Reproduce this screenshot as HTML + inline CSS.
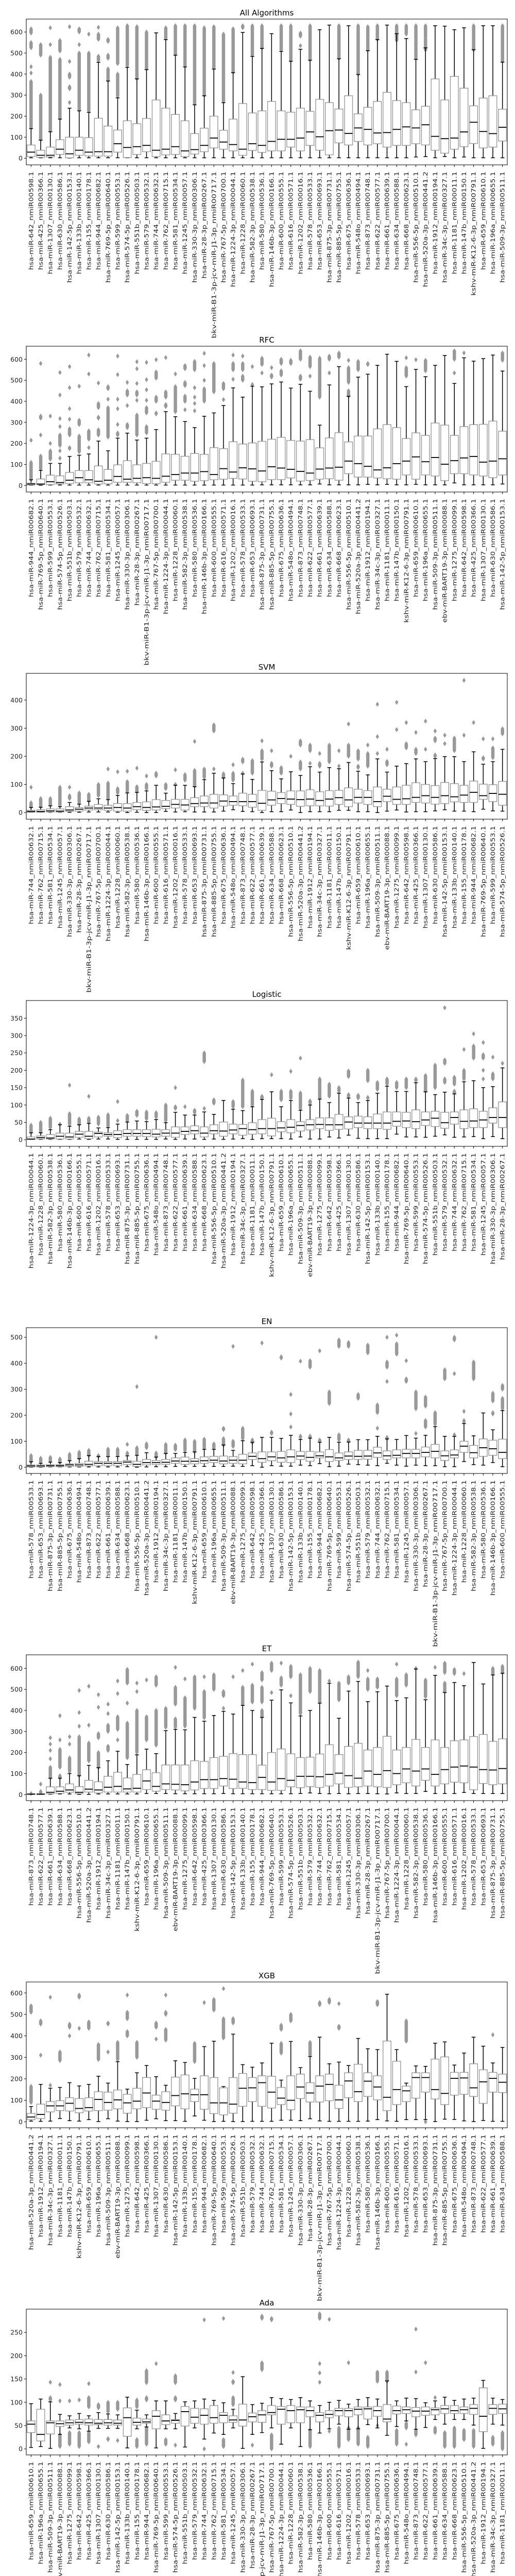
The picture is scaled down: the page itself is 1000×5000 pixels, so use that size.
<!DOCTYPE html>
<html><head><meta charset="utf-8"><title>Feature boxplots</title>
<style>html,body{margin:0;padding:0;background:#fff}svg{display:block}text{font-family:"DejaVu Sans","Liberation Sans",sans-serif}</style>
</head><body>
<svg id="fig" width="1000" height="5000" xmlns="http://www.w3.org/2000/svg"></svg>
<script>
// ---------- labels ----------
const pool=["hsa-miR-642_nmiR00598.1","hsa-miR-425_nmiR00366.1","hsa-miR-1307_nmiR00130.1","hsa-miR-630_nmiR00586.1","hsa-miR-142-5p_nmiR00153.1","hsa-miR-133b_nmiR00140.1","hsa-miR-155_nmiR00178.1","hsa-miR-944_nmiR00682.1","hsa-miR-769-5p_nmiR00640.1","hsa-miR-599_nmiR00553.1","hsa-miR-574-5p_nmiR00526.1","hsa-miR-551b_nmiR00503.1","hsa-miR-579_nmiR00532.1","hsa-miR-744_nmiR00632.1","hsa-miR-762_nmiR00715.1","hsa-miR-581_nmiR00534.1","hsa-miR-1245_nmiR00057.1","hsa-miR-330-3p_nmiR00306.1","hsa-miR-28-3p_nmiR00267.1","bkv-miR-B1-3p-jcv-miR-J1-3p_nmiR00717.1","hsa-miR-767-5p_nmiR00700.1","hsa-miR-1224-3p_nmiR00044.1","hsa-miR-1228_nmiR00060.1","hsa-miR-582-3p_nmiR00538.1","hsa-miR-580_nmiR00536.1","hsa-miR-146b-3p_nmiR00166.1","hsa-miR-600_nmiR00555.1","hsa-miR-616_nmiR00571.1","hsa-miR-1202_nmiR00016.1","hsa-miR-578_nmiR00533.1","hsa-miR-653_nmiR00693.1","hsa-miR-875-3p_nmiR00731.1","hsa-miR-885-5p_nmiR00755.1","hsa-miR-675_nmiR00636.1","hsa-miR-548o_nmiR00494.1","hsa-miR-873_nmiR00748.1","hsa-miR-622_nmiR00577.1","hsa-miR-661_nmiR00639.1","hsa-miR-634_nmiR00588.1","hsa-miR-668_nmiR00623.1","hsa-miR-556-5p_nmiR00510.1","hsa-miR-520a-3p_nmiR00441.2","hsa-miR-1912_nmiR00194.1","hsa-miR-34c-3p_nmiR00327.1","hsa-miR-1181_nmiR00011.1","hsa-miR-147b_nmiR00150.1","kshv-miR-K12-6-3p_nmiR00791.1","hsa-miR-659_nmiR00610.1","hsa-miR-196a_nmiR00655.1","hsa-miR-509-3p_nmiR00511.1","ebv-miR-BART19-3p_nmiR00088.1","hsa-miR-1275_nmiR00099.1"];
const panelOffsets=[0,7,13,21,29,35,41,47];

// ---------- Panel 1: All Algorithms ----------
const allQ1=[8,4,6,18,2,14,11,10,10,29,3,18,31,8,16,18,8,20,31,49,43,35,14,37,28,35,35,53,35,61,38,16,73,63,80,63,69,53,61,61,69,63,38,24,43,55,70,49,53,82];
const allMed=[29,14,14,43,21,38,29,31,31,69,51,55,61,38,43,55,35,41,61,96,77,65,43,69,61,80,90,90,96,125,102,131,134,118,144,137,120,122,137,149,144,159,104,93,96,125,171,127,117,147];
const allQ3=[63,38,53,88,100,100,98,190,153,134,178,164,189,277,238,208,178,117,143,200,133,186,260,215,225,270,225,219,238,223,280,264,234,297,211,242,270,313,274,264,230,247,377,277,389,333,249,286,297,233];
const allLo=[2,2,2,2,1,2,2,2,2,2,2,2,2,2,2,2,2,2,2,2,2,2,2,2,2,2,2,2,2,2,2,2,2,2,2,2,2,2,2,2,6,8,2,8,2,6,2,2,2,2];
const allHi=[141,86,126,186,238,225,218,456,367,287,432,377,421,596,564,490,434,254,297,424,264,407,598,484,522,592,508,461,518,466,611,633,473,630,398,511,564,633,592,569,470,525,630,628,611,620,516,630,630,457];
const allOut=[[[145,365],[405,405],[435,435],[525,550],[595,615]],[[90,300],[490,540]],[[130,480],[540,540],[620,620]],[[190,470],[510,560]],[[265,265],[330,340],[385,400],[460,460],[625,625]],[[230,500],[540,540],[600,615]],[[225,500],[590,590]],[[465,485],[565,590],[622,622]],[[370,425],[475,490],[555,565]],[[295,400],[450,620]],[[440,630]],[[380,625]],[[425,600]],[],[[570,620]],[[495,630]],[[440,630]],[[260,630]],[[300,620]],[[430,625]],[[270,590]],[[410,615]],[[620,630]],[[490,630]],[[525,630]],[],[[515,630]],[[465,630]],[[535,535],[580,595]],[[470,630]],[],[],[[475,630]],[],[[400,630]],[[515,625]],[[565,630]],[],[[560,630]],[[590,630]],[[475,630]],[[515,570],[575,630]],[],[],[],[],[[515,630]],[],[],[[460,630]]];

// ---------- Panel 2: RFC ----------
const rfcQ1=[2,4,4,7,9,13,13,7,8,15,15,13,9,9,15,25,25,20,23,27,30,34,31,20,18,28,28,36,21,24,30,32,25,56,40,40,36,32,30,50,30,50,45,23,56,56,50,45,37,50];
const rfcMed=[7,7,18,14,25,37,27,20,25,43,30,34,37,34,44,52,59,59,66,52,80,64,84,79,69,89,83,77,67,59,78,83,87,116,104,91,74,84,104,116,136,113,133,101,118,131,138,111,116,127];
const rfcQ3=[11,31,49,46,62,71,71,93,76,98,118,98,105,115,150,148,139,152,148,180,175,208,197,202,210,220,229,214,211,218,179,226,251,207,235,235,269,289,275,223,250,238,297,287,238,280,289,291,306,258];
const rfcLo=[1,1,2,2,2,2,2,2,2,2,2,2,2,2,2,2,2,2,2,2,2,2,2,2,3,3,3,3,3,3,7,3,3,3,3,5,3,5,3,3,5,3,3,3,12,3,3,3,3,7];
const rfcHi=[27,72,105,105,138,144,150,211,165,225,249,216,225,266,351,327,304,275,329,345,380,464,420,472,469,483,492,463,481,448,287,478,565,424,515,529,571,624,590,470,552,517,571,618,485,607,591,603,620,544];
const rfcOut=[[[30,110],[215,215]],[[80,140],[240,240],[320,330],[580,580]],[[125,165],[200,200],[330,330]],[[130,130],[165,165],[190,240],[280,280],[318,318],[430,430],[537,537]],[[175,180],[240,270],[315,315],[365,365],[465,465],[565,565]],[[160,235],[290,310],[472,472]],[[180,180],[220,260],[530,530],[620,620]],[[240,265],[320,325],[370,390],[487,487]],[[230,370],[410,410],[460,470]],[[240,250],[290,290],[365,365],[410,410],[527,527],[615,615]],[[275,290],[380,380],[430,450],[490,490]],[[240,335],[405,405],[430,445],[485,485],[555,555],[588,588]],[[250,280],[345,370],[405,405],[455,455],[503,503],[585,585]],[[340,345],[400,420],[510,540],[598,598]],[[375,385],[420,445],[608,608]],[[350,470],[530,530]],[[360,360],[400,425],[475,490],[555,570]],[[355,355],[390,390],[420,420],[465,465],[550,590]],[[400,460],[500,500],[570,570],[628,628]],[[445,580]],[[408,408],[460,485]],[[505,505],[550,580],[620,620]],[[500,520],[550,580],[615,615]],[[480,480],[565,565]],[[535,535],[575,605]],[[515,525],[560,560]],[[525,545],[580,600]],[[580,595]],[[505,520],[600,640]],[[520,520],[565,610]],[[420,605]],[[535,535],[600,615]],[[610,630]],[[425,450],[490,560],[595,595]],[[550,590]],[[575,580]],[],[],[],[[520,560],[607,607]],[[598,598]],[[545,595]],[],[],[[535,535],[600,640]],[[630,630]],[],[],[],[[595,630]]];

// ---------- Panel 3: SVM ----------
const svmQ1=[1,1,2,2,4,5,9,10,8,5,5,10,8,9,14,16,9,21,21,16,23,26,24,19,8,26,32,29,22,24,24,23,29,21,34,29,21,39,29,29,36,34,30,32,38,36,36,47,39,26];
const svmMed=[4,4,6,5,9,12,16,16,16,18,16,21,18,20,22,29,27,32,34,34,41,39,39,39,33,45,50,48,46,48,43,48,53,45,54,54,39,58,47,49,54,60,54,60,56,62,72,60,68,65];
const svmQ3=[8,10,13,13,21,18,23,29,26,32,32,36,38,46,43,47,47,53,59,65,63,59,69,65,79,76,71,77,77,81,74,78,79,88,83,78,91,83,91,97,106,100,96,107,103,97,112,101,99,111];
const svmLo=[1,1,1,1,1,1,2,2,2,1,0,1,0,0,4,2,3,2,2,2,5,10,4,3,0,3,3,9,0,3,3,3,8,8,3,3,0,5,9,2,3,3,6,10,5,5,3,12,6,5];
const svmHi=[18,19,24,21,36,30,40,49,46,61,70,72,77,97,69,97,97,92,117,140,123,103,137,118,180,149,120,145,132,163,144,160,156,178,147,134,191,144,165,174,191,181,192,199,199,181,216,172,181,225];
const svmOut=[[[20,35],[90,90]],[[22,50]],[[27,50]],[[25,90]],[[50,60],[90,90]],[[35,70]],[[42,65]],[[60,100]],[[50,105],[155,155]],[[70,85],[145,145]],[[75,110],[147,147]],[[75,92],[158,158]],[[85,100],[130,130]],[[130,140]],[[85,100]],[[100,100],[152,152]],[[115,135]],[[95,150],[253,253]],[[125,155]],[[155,155],[290,312]],[[125,138]],[[115,140],[170,170]],[[140,140],[180,190]],[[140,185]],[[190,220],[255,255]],[[165,175],[220,220]],[[140,160]],[[200,200]],[[155,180],[240,255]],[[175,175],[220,240]],[[165,175],[210,210]],[[180,240]],[[165,165],[220,220]],[[200,240],[315,315]],[[160,165],[190,220]],[[165,210],[240,240]],[[210,210],[270,270],[385,385]],[[170,182],[225,225]],[[295,295],[392,392]],[[230,245],[320,320]],[[210,225],[285,285]],[[225,225],[325,325]],[[200,205],[255,265],[290,290]],[[245,245],[275,275]],[[220,265]],[[275,275],[470,470]],[[320,320]],[[190,195],[262,262]],[[195,230],[262,262]],[[280,298]]];

// ---------- Panel 4: Logistic ----------
const logQ1=[1,2,2,2,2,7,3,8,10,6,10,10,9,8,10,7,15,17,8,17,10,17,13,16,17,11,23,20,25,28,32,27,30,31,35,32,32,30,39,35,32,41,38,33,45,32,35,35,48,35];
const logMed=[2,6,5,10,8,16,10,18,15,15,18,18,18,16,19,19,24,26,19,26,25,28,32,29,32,32,34,36,41,43,44,43,43,51,48,48,48,48,53,54,52,57,62,49,64,53,54,57,64,64];
const logQ3=[8,11,15,19,19,24,24,22,20,26,29,29,29,30,29,37,37,40,37,43,51,45,44,49,58,62,52,58,52,58,63,63,73,66,68,66,74,80,80,79,86,80,82,79,80,86,89,82,92,109];
const logLo=[1,1,1,1,1,2,1,2,2,1,1,1,1,1,2,1,2,2,1,2,1,2,3,1,3,3,3,2,8,2,2,8,5,13,4,3,3,3,16,8,8,7,10,14,7,8,9,3,9,3];
const logHi=[20,20,29,43,39,43,47,34,35,45,51,54,52,58,49,79,71,71,80,73,113,88,84,95,116,138,95,113,85,100,117,107,134,120,107,113,134,154,139,139,164,138,130,137,132,167,170,150,153,207];
const logOut=[[[22,42]],[[22,50]],[[35,62]],[[45,45]],[[45,75],[157,157]],[[45,60]],[[50,62],[125,125]],[[45,65]],[[40,72]],[[55,55],[110,110]],[[55,70]],[[70,82]],[[60,80]],[[65,78]],[[55,100]],[[90,95],[150,150]],[[95,95]],[[78,85]],[[90,90],[225,250]],[[105,115]],[],[[95,110]],[[95,172]],[[100,140]],[[120,125]],[[187,187]],[[115,140]],[[120,140],[197,197]],[[90,135],[235,235]],[[105,112]],[[120,175]],[[125,160]],[[140,150]],[[125,130],[182,198]],[[120,128]],[[120,122],[170,200]],[[145,165]],[[160,175]],[[150,165]],[[150,175]],[[170,175]],[[140,185]],[[150,215]],[[165,175],[220,230],[380,380]],[[135,140],[160,180]],[[175,200],[260,260]],[[235,270],[305,305]],[[175,175],[200,200],[235,245],[280,280]],[[175,190],[238,238]],[[220,220]]];

// ---------- Panel 5: EN ----------
const enQ1=[1,1,2,2,3,3,5,6,6,6,10,3,9,10,11,15,11,13,15,18,13,15,13,30,19,25,19,18,30,23,36,22,26,30,30,31,38,30,36,36,36,40,36,26,36,57,36,42,46,33];
const enMed=[5,5,6,6,9,9,11,15,15,15,20,11,18,18,19,24,23,23,25,27,24,27,27,42,33,40,36,40,43,38,44,40,36,43,42,43,55,44,46,53,53,57,61,44,47,81,56,75,71,57];
const enQ3=[9,9,10,10,13,15,23,22,22,22,26,23,30,26,30,36,39,33,40,42,43,41,50,55,59,59,61,67,61,61,59,68,55,59,65,65,77,63,67,69,69,78,88,63,67,100,84,109,104,108];
const enLo=[0,0,1,1,1,1,1,1,1,1,2,0,1,2,2,3,3,3,3,3,3,4,3,6,0,6,4,4,8,6,14,2,4,12,10,8,6,15,8,4,8,6,6,2,2,22,10,8,18,2];
const enHi=[21,15,20,18,25,33,45,41,41,41,44,46,56,39,53,53,57,59,69,69,86,65,102,96,115,115,111,123,107,112,96,115,96,97,106,106,119,109,107,122,112,123,156,119,119,168,121,209,144,218];
const enOut=[[[22,45]],[[20,35]],[[25,38]],[[20,32]],[[28,50]],[[35,58]],[[45,65]],[[42,45]],[[45,70]],[[45,70]],[[50,55],[88,88]],[[50,75],[310,310]],[[75,90]],[[40,55],[500,500]],[[55,88]],[[68,85]],[[65,105]],[[60,100]],[[75,108]],[[75,90]],[[85,110],[145,150]],[[80,100],[465,465]],[[110,150]],[[95,105]],[[478,478]],[[130,135]],[[420,425]],[[155,155],[205,205],[280,280]],[[115,120],[408,408]],[[115,120],[385,410]],[[100,105],[448,448]],[[245,290]],[[105,125],[465,490]],[[100,105],[465,480]],[[265,280]],[[440,470]],[[150,150],[210,240]],[[110,115],[330,330],[385,405],[500,500]],[[435,475],[508,508]],[[330,340],[410,410]],[[130,130],[225,290]],[[155,180],[235,270]],[[165,210]],[[340,375]],[[125,125],[360,360],[490,500]],[[175,180],[215,215]],[[340,405]],[],[[205,210],[255,285]],[[225,265],[300,315]]];

// ---------- Panel 6: ET ----------
const etQ1=[1,1,4,6,11,4,12,8,12,12,12,12,24,16,24,22,18,22,29,29,41,29,30,24,24,20,20,37,33,38,34,41,51,34,37,41,37,34,47,56,41,68,41,51,59,56,23,53,47,51];
const etMed=[2,2,11,16,22,11,26,22,35,39,27,30,65,39,51,49,47,60,71,71,76,73,60,57,82,60,76,68,87,87,85,96,102,90,78,112,96,114,100,122,112,122,96,119,131,136,131,119,117,124];
const etQ3=[4,4,37,37,51,38,68,61,87,106,79,96,118,104,141,141,141,161,158,176,182,195,190,190,140,200,217,194,176,178,193,237,190,229,244,212,224,277,212,224,262,224,260,224,256,260,276,286,253,265];
const etLo=[1,1,2,3,3,1,1,3,3,3,3,3,5,5,5,4,4,4,4,4,5,4,4,4,4,4,4,4,5,8,5,4,5,4,5,5,4,3,8,5,5,15,5,5,5,10,5,5,5,5];
const etHi=[4,4,78,78,100,90,139,128,161,206,143,189,216,195,304,310,308,367,349,376,396,383,424,400,367,449,498,436,374,400,435,529,363,492,538,442,489,516,447,460,597,451,567,485,533,518,628,526,569,577];
const etOut=[[[5,5]],[[10,15],[50,50]],[[80,130],[170,170],[210,210],[240,240],[270,270]],[[80,90],[130,215],[260,260],[375,375]],[[110,175],[240,240],[275,275]],[[90,275],[325,325],[390,390],[495,495]],[[160,245],[330,330],[515,515]],[[130,200],[270,290],[415,415],[475,475]],[[210,230],[300,330],[385,385],[430,430]],[[260,260],[310,370],[480,480],[540,540]],[[175,340],[435,435],[530,595]],[[200,400],[490,490],[530,530]],[[260,370],[545,545]],[[235,400],[520,560]],[[320,410]],[[320,360],[430,510],[605,605]],[[325,460],[550,550]],[[410,560]],[[365,490],[560,560]],[[500,570]],[[410,410],[470,490]],[[560,560]],[[430,510],[590,590]],[[440,520],[620,620]],[[370,400],[440,510],[545,580]],[[485,485],[590,625]],[[520,555],[625,625]],[[470,470],[560,610]],[[385,570]],[[490,600]],[[440,590]],[[540,540]],[[450,530]],[[530,560]],[[560,630]],[[500,550],[590,590]],[[510,550]],[],[[470,550],[620,620]],[[520,570]],[[600,600]],[[465,545]],[[605,605]],[[490,530],[580,625]],[[575,595]],[[575,575]],[],[],[[575,600]],[[580,610]]];

// ---------- Panel 7: XGB ----------
const xgbQ1=[10,15,46,52,50,42,50,52,54,60,40,60,66,58,54,74,60,94,58,38,32,40,72,94,72,64,80,56,108,92,92,98,62,112,94,118,102,52,80,94,110,138,106,80,124,128,118,86,138,136];
const xgbMed=[22,34,74,74,86,62,66,104,90,102,88,96,134,96,90,122,130,126,126,88,88,82,156,158,182,138,110,100,162,134,166,174,102,190,140,189,162,114,150,144,206,206,150,132,202,204,158,186,202,184];
const xgbQ3=[39,82,94,98,112,108,112,140,138,148,128,156,206,124,140,208,218,152,214,206,158,206,225,206,214,212,160,214,222,182,214,222,170,228,268,228,214,376,282,166,228,228,292,302,230,230,270,242,230,222];
const xgbLo=[3,2,3,15,5,3,10,1,14,3,1,1,7,14,5,5,2,27,7,1,2,1,1,2,2,2,7,7,5,14,4,2,2,2,2,3,10,4,2,10,10,10,1,12,11,4,1,6,2,2];
const xgbHi=[71,174,156,160,182,167,174,212,180,280,152,228,262,210,170,284,276,202,350,375,164,408,266,254,274,366,194,374,252,304,394,270,278,262,388,340,336,594,336,180,260,258,366,372,264,320,394,352,274,346];
const xgbOut=[[[90,165],[510,540]],[[310,310],[455,470]],[[170,170],[580,580]],[[285,325]],[[400,400],[440,455]],[[435,435],[580,590]],[[435,465]],[[290,360]],[[325,325],[455,460]],[[290,370]],[[400,420],[480,510],[590,590]],[[300,370]],[],[[385,385],[440,460]],[[380,430],[500,510],[590,590]],[],[],[[280,365]],[[555,555]],[[520,570]],[[390,480],[620,620]],[[460,480]],[],[],[],[],[[320,365],[430,450]],[[470,500]],[],[[310,370]],[[545,555]],[[555,570]],[[435,445],[550,550]],[],[],[],[[545,560]],[],[],[[375,470]],[],[[0,0]],[],[],[],[],[],[],[[405,405]],[]];

// ---------- Panel 8: Ada ----------
const adaQ1=[35,17,32,48,51,53,51,52,51,51,27,51,55,43,52,55,49,55,53,55,56,57,49,58,57,73,53,56,56,69,58,67,71,69,73,64,70,58,75,76,69,72,73,76,76,76,74,37,74,76];
const adaMed=[53,31,56,54,56,57,56,55,56,55,67,57,58,70,60,61,80,68,72,67,72,62,62,69,73,78,85,82,84,82,72,74,82,82,85,86,82,64,82,84,81,81,84,86,82,84,87,70,87,86];
const adaQ3=[60,85,60,60,62,63,64,63,63,62,88,66,64,82,73,63,91,87,86,93,78,71,96,77,82,93,91,93,90,90,78,82,87,87,90,90,91,95,92,90,89,90,88,93,93,90,95,131,95,96];
const adaLo=[3,5,1,31,45,43,38,44,44,44,2,43,47,2,43,43,4,45,21,34,31,45,1,31,35,45,10,45,5,41,34,43,53,42,43,52,45,29,48,60,42,46,63,53,63,63,51,1,53,51];
const adaHi=[97,107,101,74,71,76,71,78,75,73,111,83,73,103,103,76,101,103,107,104,99,85,155,95,98,110,108,106,110,103,93,100,104,96,106,110,107,146,103,109,108,99,103,111,104,107,109,147,109,106];
const adaOut=[[],[],[[105,110],[143,143]],[[5,30],[103,103],[138,138]],[[10,35],[103,103]],[[5,35],[105,105]],[[15,35],[90,110],[140,140]],[[5,5],[88,95]],[[20,22],[80,100]],[[18,18],[85,100]],[],[[5,20],[90,105]],[[10,45],[105,110],[142,168]],[[183,183]],[[10,20]],[[8,8],[105,110],[142,157]],[],[],[[0,0],[277,277]],[],[[5,20],[280,280]],[[95,110],[142,145],[164,164]],[],[[8,8]],[[170,185],[280,285]],[[0,30],[277,280]],[],[],[],[[5,40]],[[143,143],[163,163],[183,183],[280,290]],[[38,38],[278,278]],[[5,45]],[[20,45],[185,185]],[[10,45]],[[5,25]],[[50,50],[145,165]],[[145,165]],[[10,40]],[[10,10],[45,55]],[[30,40],[165,165],[257,257]],[[185,185]],[[35,45],[110,110]],[[5,35]],[[5,45]],[[20,40]],[[5,40]],[],[[10,25]],[[0,35]]];

const titles=["All Algorithms","RFC","SVM","Logistic","EN","ET","XGB","Ada"];
const yRanges=[[-31.5,661.5],[-31,662],[-23.5,495],[-19,401],[-24,537],[-28.6,664.4],[-28,651],[-13,300]];
const yTicks=[[0,100,200,300,400,500,600],[0,100,200,300,400,500,600],[0,100,200,300,400],[0,50,100,150,200,250,300,350],[0,100,200,300,400,500],[0,100,200,300,400,500,600],[0,100,200,300,400,500,600],[0,50,100,150,200,250]];
const q1s=[allQ1,rfcQ1,svmQ1,logQ1,enQ1,etQ1,xgbQ1,adaQ1];
const meds=[allMed,rfcMed,svmMed,logMed,enMed,etMed,xgbMed,adaMed];
const q3s=[allQ3,rfcQ3,svmQ3,logQ3,enQ3,etQ3,xgbQ3,adaQ3];
const los=[allLo,rfcLo,svmLo,logLo,enLo,etLo,xgbLo,adaLo];
const his=[allHi,rfcHi,svmHi,logHi,enHi,etHi,xgbHi,adaHi];
const outs=[allOut,rfcOut,svmOut,logOut,enOut,etOut,xgbOut,adaOut];

const NS="http://www.w3.org/2000/svg";
const svg=document.getElementById('fig');
const L=51,R=985,H=283,N=50,GAP=635,TOP0=37;
function mk(tag,attrs,parent){const e=document.createElementNS(NS,tag);for(const k in attrs)e.setAttribute(k,attrs[k]);parent.appendChild(e);return e;}

titles.forEach((title,p)=>{
  const top=TOP0+GAP*p, bot=top+H;
  const [ymin,ymax]=yRanges[p];
  const yS=v=>top+(ymax-v)/(ymax-ymin)*H;
  const xS=i=>L+(i+0.5)*(R-L)/N;
  const g=mk('g',{},svg);
  
  
  const t=mk('text',{x:(L+R)/2,y:top-7,'text-anchor':'middle','font-size':15,fill:'#000'},g);
  t.textContent=title;
  
  
  // y axis
  yTicks[p].forEach(v=>{
    const y=yS(v);
    const tk=mk('line',{x1:L-4,x2:L,y1:y,y2:y,stroke:'#000','stroke-width':1},g);
    
    
    const tl=mk('text',{x:L-7,y:y+4.5,'text-anchor':'end','font-size':12.5,fill:'#222'},g);
    tl.textContent=String(v);
    
    
  });
  const labels=[];
  for(let i=0;i<N;i++)labels.push(pool[(i+panelOffsets[p])%pool.length]);
  const bw=15.5, cw=7.5;
  for(let i=0;i<N;i++){
    const x=xS(i);
    const bg=mk('g',{},g);
    
    
    // outliers
    outs[p][i].forEach(([a,b])=>{
      const ya=yS(a), yb=yS(b);
      const pts=[[x,yb-4.5],[x+3,yb],[x+3,ya],[x,ya+4.5],[x-3,ya],[x-3,yb]].map(q=>q.join(',')).join(' ');
      const d=mk('polygon',{points:pts,fill:'#999',stroke:'#999','stroke-width':0.5},bg);
      
      
    });
    // whiskers
    const w1=mk('line',{x1:x,x2:x,y1:yS(q3s[p][i]),y2:yS(his[p][i]),stroke:'#000','stroke-width':1.5},bg);
    
    
    const w2=mk('line',{x1:x,x2:x,y1:yS(q1s[p][i]),y2:yS(los[p][i]),stroke:'#000','stroke-width':1.5},bg);
    
    
    const c1=mk('line',{x1:x-cw/2,x2:x+cw/2,y1:yS(his[p][i]),y2:yS(his[p][i]),stroke:'#000','stroke-width':1.5},bg);
    
    
    const c2=mk('line',{x1:x-cw/2,x2:x+cw/2,y1:yS(los[p][i]),y2:yS(los[p][i]),stroke:'#000','stroke-width':1.5},bg);
    
    
    const yq3=yS(q3s[p][i]), yq1=yS(q1s[p][i]);
    const rc=mk('rect',{x:x-bw/2,y:yq3,width:bw,height:Math.max(0.5,yq1-yq3),fill:'#fff',stroke:'#999','stroke-width':1.4},bg);
    
    
    const md=mk('line',{x1:x-bw/2,x2:x+bw/2,y1:yS(meds[p][i]),y2:yS(meds[p][i]),stroke:'#000','stroke-width':1.8},bg);
    
    
    // x tick and label
    const xt=mk('line',{x1:x,x2:x,y1:bot,y2:bot+4,stroke:'#000','stroke-width':1},g);
    
    
    const lab=labels[i];
    const xl=mk('text',{transform:`translate(${x+4},${bot+13}) rotate(-90)`,'text-anchor':'end','font-size':11.5,fill:'#222',textLength:lab.length*8.3,lengthAdjust:'spacingAndGlyphs'},g);
    xl.textContent=lab;
    
    
  }
  const fr=mk('rect',{x:L,y:top,width:R-L,height:H,fill:'none',stroke:'#000','stroke-width':1},g);
  
  
});
</script>
</body></html>
